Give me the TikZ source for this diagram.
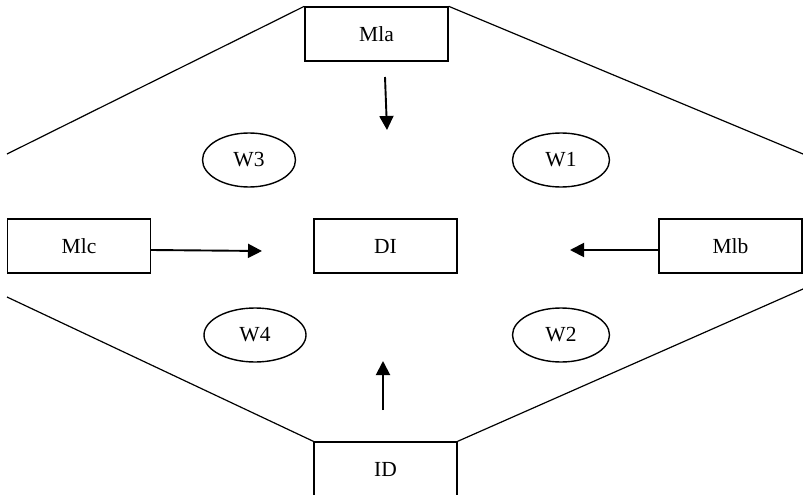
\documentclass[tikz,border=0pt]{standalone}
\usepackage{fontspec}
\setmainfont{Liberation Serif}
\usetikzlibrary{arrows.meta,shapes.geometric}
\begin{document}
\begin{tikzpicture}[x=1pt,y=-1pt,
  label font/.style={font=\fontsize{21.5}{24}\selectfont},
  box/.style={draw, line width=1.4pt, minimum width=143pt, minimum height=54pt,
    inner sep=0pt, label font},
  oval/.style={draw, ellipse, line width=1.4pt, minimum width=97pt,
    minimum height=54pt, inner sep=0pt, label font},
  edge/.style={line width=1.2pt},
  flow/.style={line width=1.9pt, -{Triangle[length=14pt,width=14pt]}}]
\useasboundingbox (0,0) rectangle (803,495);

% rectangles
\node[box] (Mla) at (376.5,34) {Mla};
\node[box] (DI)  at (385.5,246) {DI};
\node[box] (Mlc) at (79,246) {Mlc};
\node[box] (Mlb) at (730.5,246) {Mlb};
\node[box] (ID)  at (385.5,469) {ID};

% ellipses
\node[oval, minimum width=93pt]  (W3) at (249,160) {W3};
\node[oval]                      (W1) at (561,160) {W1};
\node[oval, minimum width=102pt] (W4) at (255,335) {W4};
\node[oval]                      (W2) at (561,335) {W2};

% outer frame lines
\coordinate (ul) at (7,154);
\coordinate (ur) at (803,154);
\coordinate (ll) at (7,297);
\coordinate (lr) at (803,289);
\draw[edge] (ul) -- (Mla.north west);
\draw[edge] (Mla.north east) -- (ur);
\draw[edge] (ll) -- (ID.north west);
\draw[edge] (ID.north east) -- (lr);

% arrows pointing toward DI
\coordinate (aTop0) at (385,77);
\coordinate (aTop1) at (387,130);
\coordinate (aBot0) at (383,410);
\coordinate (aBot1) at (383,361);
\coordinate (aLeft1) at (262,251);
\coordinate (aRight1) at (570,250);
\draw[flow] (aTop0) -- (aTop1);
\draw[flow] (aBot0) -- (aBot1);
\draw[flow] ([yshift=-4pt]Mlc.east) -- (aLeft1);
\draw[flow] ([yshift=-4pt]Mlb.west) -- (aRight1);
\end{tikzpicture}
\end{document}
